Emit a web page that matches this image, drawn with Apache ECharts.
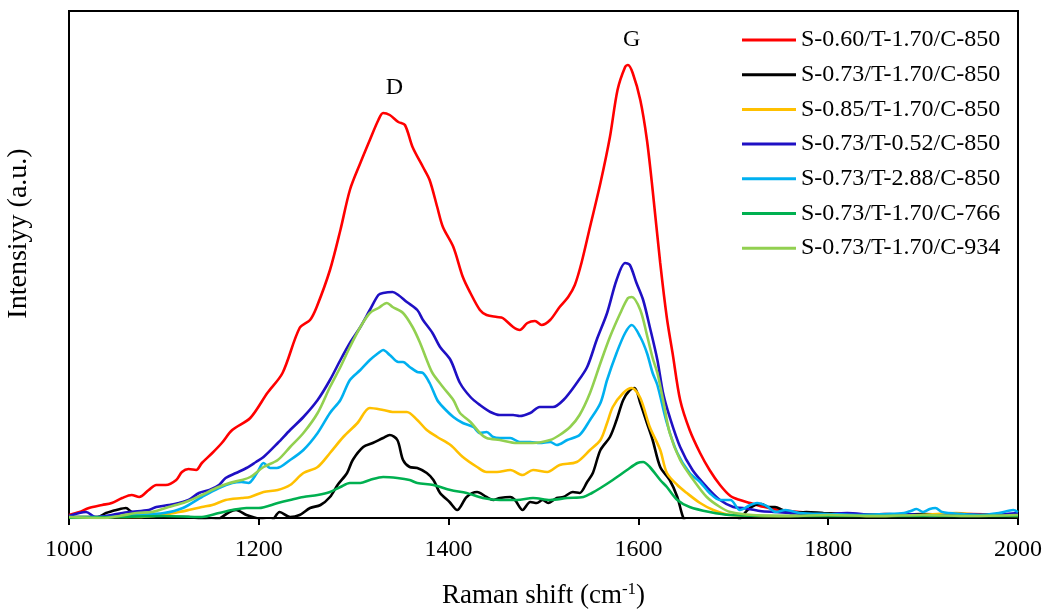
<!DOCTYPE html>
<html>
<head>
<meta charset="utf-8">
<script src="https://cdn.jsdelivr.net/npm/echarts@6/dist/echarts.min.js"></script>
<style>
html,body{margin:0;padding:0;background:#fff;}
#chart{width:1048px;height:610px;}
</style>
</head>
<body>
<div id="chart"></div>
<script>
// Raman shift (cm-1) vs intensity (a.u.) — [wavenumber, intensity]
const seriesNames = [
  'S-0.60/T-1.70/C-850',
  'S-0.73/T-1.70/C-850',
  'S-0.85/T-1.70/C-850',
  'S-0.73/T-0.52/C-850',
  'S-0.73/T-2.88/C-850',
  'S-0.73/T-1.70/C-766',
  'S-0.73/T-1.70/C-934'
];
const seriesColors = ['#ff0000', '#000000', '#ffc000', '#1f10c4', '#00b0f0', '#00b050', '#92d050'];
const xTicks = [1000, 1200, 1400, 1600, 1800, 2000];

const s060_T170_C850 = [[1000,3],[1011,6],[1021,10],[1035,13],[1045,15],[1056,20],[1066,23],[1074,21],[1084,28],[1092,33],[1102,33],[1113,38],[1119,46],[1126,49],[1134,48],[1140,55],[1151,65],[1161,75],[1172,88],[1191,100],[1209,125],[1225,145],[1243,190],[1254,198],[1261,211],[1275,248],[1286,288],[1296,328],[1307,355],[1317,378],[1326,398],[1331,405],[1338,403],[1347,396],[1354,393],[1362,371],[1373,351],[1380,338],[1388,311],[1394,291],[1405,271],[1415,241],[1423,225],[1433,208],[1440,203],[1451,201],[1457,200],[1468,191],[1475,188],[1483,195],[1491,197],[1498,193],[1507,198],[1517,211],[1526,221],[1533,233],[1540,255],[1549,291],[1560,335],[1570,381],[1578,428],[1586,451],[1589,453],[1594,445],[1602,418],[1609,378],[1615,328],[1623,255],[1630,200],[1636,165],[1644,118],[1654,88],[1665,65],[1675,48],[1686,33],[1697,22],[1707,18],[1718,15],[1728,12],[1738,10],[1750,8],[1770,6],[1800,4],[1830,3],[1860,4],[1900,3],[1950,4],[2000,3]];

const s073_T170_C850 = [[1000,1],[1030,1],[1039,5],[1050,8],[1060,10],[1066,6],[1077,3],[1098,1],[1126,1],[1150,-3],[1158,-1],[1169,6],[1176,8],[1187,3],[1197,0],[1212,-4],[1222,6],[1233,1],[1243,3],[1254,10],[1265,13],[1275,21],[1283,33],[1293,45],[1299,58],[1310,71],[1320,75],[1331,80],[1338,83],[1346,78],[1352,58],[1359,51],[1367,50],[1377,45],[1384,38],[1391,25],[1401,16],[1409,8],[1419,21],[1430,26],[1440,21],[1447,18],[1454,20],[1465,21],[1470,18],[1478,8],[1486,16],[1493,15],[1499,18],[1505,15],[1514,20],[1521,21],[1531,26],[1538,25],[1546,36],[1552,45],[1560,68],[1570,81],[1577,98],[1584,118],[1591,128],[1596,130],[1602,115],[1609,95],[1615,78],[1623,51],[1633,38],[1641,21],[1647,1],[1654,-10],[1680,-15],[1700,-8],[1708,0],[1715,8],[1723,13],[1730,14],[1737,11],[1744,11],[1752,8],[1760,5],[1777,6],[1795,5],[1820,4],[1850,3],[1900,4],[1950,3],[2000,3]];

const s085_T170_C850 = [[1000,1],[1071,1],[1098,3],[1116,6],[1126,8],[1140,11],[1151,13],[1165,18],[1182,20],[1191,21],[1205,26],[1220,28],[1233,33],[1247,45],[1262,51],[1275,65],[1289,81],[1304,95],[1317,110],[1331,108],[1341,106],[1356,106],[1367,98],[1377,88],[1388,81],[1402,73],[1415,61],[1430,51],[1440,46],[1451,46],[1465,48],[1478,43],[1489,48],[1504,46],[1517,53],[1535,56],[1549,68],[1560,78],[1567,95],[1573,111],[1584,125],[1593,130],[1602,120],[1612,91],[1623,68],[1630,45],[1641,33],[1651,25],[1665,15],[1679,8],[1697,3],[1750,2],[1800,3],[1850,2],[1900,3],[1935,5],[1960,3],[2000,2]];

const s073_T052_C850 = [[1000,2],[1018,6],[1028,1],[1045,3],[1063,6],[1084,8],[1092,11],[1105,13],[1116,15],[1126,18],[1137,25],[1148,28],[1158,33],[1165,40],[1176,45],[1187,50],[1197,56],[1205,61],[1220,75],[1233,88],[1247,101],[1262,118],[1275,138],[1286,158],[1296,175],[1307,191],[1317,208],[1326,223],[1331,225],[1341,226],[1347,223],[1356,216],[1367,208],[1373,198],[1383,185],[1391,171],[1402,158],[1412,135],[1423,121],[1433,113],[1444,106],[1454,103],[1468,103],[1475,102],[1486,105],[1496,111],[1510,111],[1521,118],[1535,135],[1546,151],[1556,178],[1567,205],[1577,238],[1586,255],[1591,253],[1598,235],[1605,218],[1612,191],[1620,158],[1626,125],[1633,101],[1644,71],[1657,48],[1672,31],[1686,18],[1700,11],[1710,10],[1728,7],[1745,6],[1763,5],[1790,3],[1820,5],[1850,3],[1880,4],[1910,2],[1940,4],[1970,3],[2000,5]];

const s073_T288_C850 = [[1000,1],[1040,1],[1070,3],[1100,5],[1120,10],[1140,21],[1158,30],[1172,35],[1182,36],[1189,35],[1198,45],[1205,55],[1212,50],[1219,50],[1233,58],[1247,68],[1262,85],[1275,105],[1286,118],[1296,138],[1307,148],[1317,158],[1326,165],[1331,168],[1338,163],[1347,156],[1352,156],[1359,151],[1367,146],[1373,145],[1380,135],[1388,118],[1394,111],[1405,101],[1415,95],[1426,91],[1433,85],[1440,86],[1447,81],[1454,80],[1465,80],[1475,76],[1486,76],[1496,75],[1507,76],[1514,73],[1525,78],[1538,83],[1549,98],[1560,115],[1567,138],[1577,165],[1586,185],[1593,193],[1602,181],[1609,165],[1615,145],[1620,133],[1630,95],[1641,65],[1654,45],[1665,36],[1675,25],[1686,18],[1697,18],[1707,8],[1718,13],[1725,15],[1735,12],[1745,6],[1755,8],[1770,5],[1800,4],[1830,3],[1860,4],[1880,5],[1887,7],[1893,9],[1900,6],[1907,9],[1913,10],[1920,6],[1940,4],[1960,3],[1980,5],[1995,8],[2000,6]];

const s073_T170_C766 = [[1000,0],[1050,1],[1100,2],[1140,1],[1158,5],[1172,8],[1187,10],[1200,10],[1220,15],[1233,18],[1247,21],[1262,23],[1275,26],[1286,31],[1296,35],[1307,35],[1317,38],[1331,41],[1346,40],[1359,38],[1367,35],[1384,33],[1402,28],[1419,25],[1436,20],[1454,18],[1472,18],[1489,20],[1507,18],[1525,20],[1542,21],[1551,25],[1560,30],[1573,38],[1588,48],[1599,55],[1605,56],[1612,51],[1623,38],[1630,31],[1641,18],[1654,11],[1675,6],[1697,3],[1750,2],[1800,2],[1900,2],[2000,2]];

const s073_T170_C934 = [[1000,1],[1035,0],[1053,2],[1071,5],[1087,6],[1105,11],[1123,16],[1140,23],[1155,30],[1169,35],[1182,38],[1191,41],[1205,51],[1220,58],[1233,71],[1247,85],[1262,105],[1275,131],[1286,151],[1296,171],[1307,191],[1317,205],[1326,210],[1335,215],[1341,211],[1352,205],[1362,191],[1370,175],[1377,158],[1383,145],[1394,131],[1405,118],[1412,105],[1423,96],[1433,85],[1440,80],[1454,78],[1472,75],[1489,75],[1507,78],[1517,83],[1528,91],[1538,103],[1549,125],[1560,155],[1570,181],[1581,205],[1589,220],[1593,221],[1602,208],[1609,183],[1615,160],[1620,145],[1626,118],[1633,85],[1644,58],[1658,38],[1672,21],[1686,11],[1697,6],[1720,3],[1760,2],[1800,3],[1850,2],[1900,3],[1950,2],[2000,3]];

const allData = [s060_T170_C850, s073_T170_C850, s085_T170_C850, s073_T052_C850, s073_T288_C850, s073_T170_C766, s073_T170_C934];

// peak annotations [label, wavenumber, intensity]
const peakLabels = [['D', 1343, 430], ['G', 1593, 478]];

const FONT = 'Liberation Serif, Times New Roman, serif';
const chart = echarts.init(document.getElementById('chart'), null, {renderer: 'canvas'});

const series = seriesNames.map((name, i) => ({
  name: name,
  type: 'line',
  data: allData[i],
  showSymbol: false,
  symbol: 'none',
  smooth: 0.3,
  clip: true,
  lineStyle: {color: seriesColors[i], width: 2.6},
  itemStyle: {color: seriesColors[i]},
  emphasis: {disabled: true},
  z: 2 + i,
  markPoint: i === 0 ? {
    symbol: 'circle',
    symbolSize: 1,
    itemStyle: {color: 'rgba(0,0,0,0)'},
    label: {show: true, position: 'inside', color: '#000', fontFamily: FONT, fontSize: 24, formatter: p => p.name},
    data: peakLabels.map(p => ({name: p[0], coord: [p[1], p[2]]}))
  } : undefined
}));

chart.setOption({
  animation: false,
  backgroundColor: '#fff',
  grid: {left: 69, right: 30, top: 11, bottom: 92, outerBoundsMode: 'none', containLabel: false, show: true, borderColor: '#000', borderWidth: 2, backgroundColor: 'transparent'},
  legend: {
    orient: 'vertical',
    left: 737,
    top: 23,
    data: seriesNames,
    icon: 'rect',
    itemWidth: 54,
    itemHeight: 3,
    itemGap: 10.7,
    textStyle: {fontFamily: FONT, fontSize: 24, color: '#000', lineHeight: 24}
  },
  xAxis: {
    type: 'value',
    min: xTicks[0],
    max: xTicks[xTicks.length - 1],
    interval: 200,
    name: 'Raman shift (cm{sup|-1})',
    nameLocation: 'middle',
    nameGap: 63,
    nameTextStyle: {fontFamily: FONT, fontSize: 27, color: '#000', rich: {sup: {fontFamily: FONT, fontSize: 17, verticalAlign: 'top', padding: [0,0,13,0], color: '#000'}}},
    axisLine: {show: true, onZero: false, lineStyle: {color: '#000', width: 2}},
    axisTick: {show: true, inside: false, length: 7, lineStyle: {color: '#000', width: 2}},
    axisLabel: {fontFamily: FONT, fontSize: 24, color: '#000', margin: 20, showMinLabel: true, showMaxLabel: true, formatter: v => String(v)},
    splitLine: {show: false}
  },
  yAxis: {
    type: 'value',
    min: 0,
    max: 507,
    name: 'Intensiyy (a.u.)',
    nameLocation: 'middle',
    nameRotate: 90,
    nameGap: 36,
    nameTextStyle: {fontFamily: FONT, fontSize: 28, color: '#000', padding: [0, 0, 0, 62]},
    axisLine: {show: true, lineStyle: {color: '#000', width: 2}},
    axisTick: {show: false},
    axisLabel: {show: false},
    splitLine: {show: false}
  },
  series: series
});
</script>
</body>
</html>
